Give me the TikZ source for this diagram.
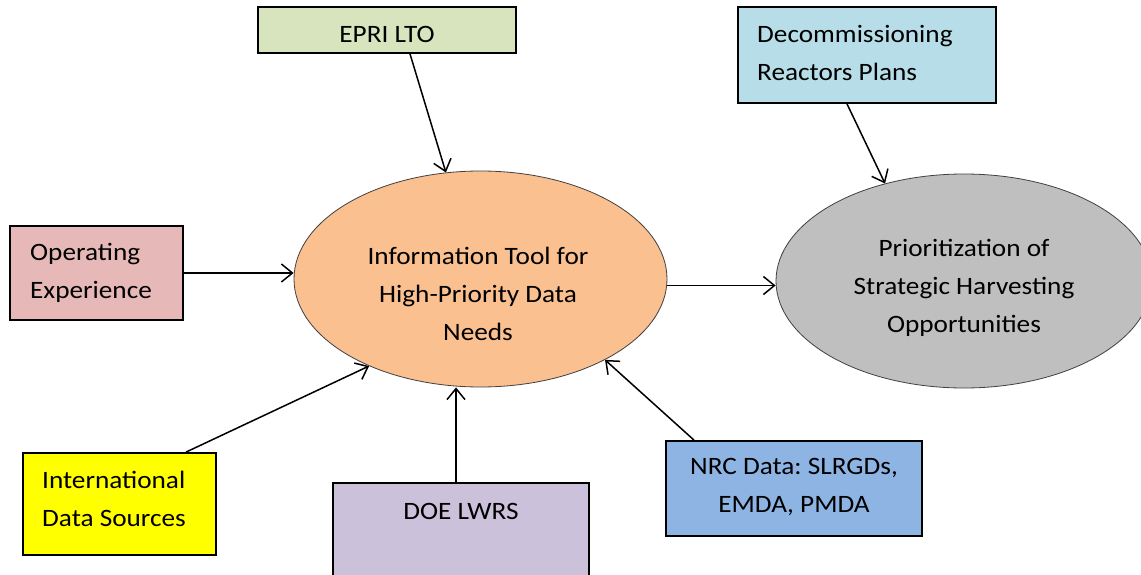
\documentclass[tikz,border=0pt]{standalone}
\usepackage{fontspec}
\setmainfont{Carlito}[FakeStretch=1.09]
\usetikzlibrary{shapes.geometric,arrows.meta,calc}
\frenchspacing
\definecolor{cgreen}{HTML}{D7E4BD}
\definecolor{cblue}{HTML}{B7DEE8}
\definecolor{cpink}{HTML}{E6B9B8}
\definecolor{cyellow}{HTML}{FFFF00}
\definecolor{clav}{HTML}{CCC1DA}
\definecolor{cnrc}{HTML}{8EB4E3}
\definecolor{corange}{HTML}{FAC090}
\definecolor{cgray}{HTML}{BFBFBF}
\tikzset{
  box/.style={draw=black, line width=1.8pt, inner sep=0pt, font=\fontsize{25}{38}\selectfont},
  oval/.style={ellipse, draw=black!75, line width=0.8pt, inner sep=0pt},
  txt/.style={align=center, inner sep=0pt, font=\fontsize{25}{38}\selectfont\frenchspacing},
  ltxt/.style={align=left, inner sep=0pt, font=\fontsize{25}{38}\selectfont\frenchspacing},
  arr/.style={line width=1.5pt, -{Straight Barb[length=11pt,width=18pt,line width=1.5pt]}}
}
\begin{document}
\begin{tikzpicture}[x=1pt,y=-1pt]
\useasboundingbox (0,0) rectangle (1141,575);
\clip (0,0) rectangle (1141,575);
\fill[white] (0,0) rectangle (1141,575);
% ellipses
\node[oval, fill=corange, minimum width=373, minimum height=216] (info) at (480.5,279) {};
\node[txt] (infotxt) at (478,293.5) {Information Tool for\\High-Priority Data\\Needs};
\node[oval, fill=cgray, minimum width=376, minimum height=214] (prio) at (964,281) {};
\node[txt] (priotxt) at (964,288) {Prioritization of\\Strategic Harvesting\\Opportunities};
% boxes
\node[box, fill=cgreen, minimum width=258, minimum height=46] (epri) at (387,30) {};
\node[txt] (epritxt) at (387,34) {EPRI LTO};
\node[box, fill=cblue, minimum width=258, minimum height=96] (decom) at (867,55) {};
\node[ltxt, anchor=west] (decomtxt) at (757,53) {Decommissioning\\Reactors Plans};
\node[box, fill=cpink, minimum width=173, minimum height=94] (oper) at (96.5,273) {};
\node[ltxt, anchor=west] (opertxt) at (30,273) {Operating\\Experience};
\node[box, fill=cyellow, minimum width=193, minimum height=102] (intl) at (119.5,504) {};
\node[ltxt, anchor=west] (intltxt) at (42,499) {International\\Data Sources};
\node[box, fill=clav, minimum width=256, minimum height=130] (doe) at (461,548) {};
\node[txt] (doetxt) at (461,511) {DOE LWRS};
\node[box, fill=cnrc, minimum width=256, minimum height=95] (nrc) at (794,488.5) {};
\node[txt] (nrctxt) at (794,487) {NRC Data: SLRGDs,\\EMDA, PMDA};
% connectors
\coordinate (s1) at ($(epri.south)+(23,0)$);
\draw[arr] (s1) -- (info.108);
\coordinate (s2) at ($(decom.south)+(-20,0)$);
\draw[arr] (s2) -- (prio.129);
\draw[arr] (oper.east) -- (oper.east -| info.west);
\coordinate (s3) at ($(intl.north)+(66.5,0)$);
\draw[arr] (s3) -- (info.218);
\coordinate (s4) at ($(doe.north)+(-5,0)$);
\draw[arr] (s4) -- (s4 |- info.south);
\coordinate (s5) at ($(nrc.north)+(-100,0)$);
\draw[arr] (s5) -- (info.327);
\draw[arr] (info.358.5) -- (info.358.5 -| prio.west);
\end{tikzpicture}
\end{document}
